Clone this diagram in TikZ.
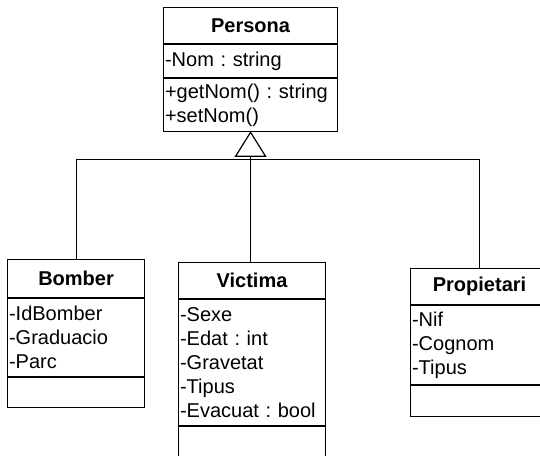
\documentclass[tikz,border=0pt]{standalone}
\usepackage{fontspec}
\setmainfont{Liberation Sans}
\usetikzlibrary{calc}
\frenchspacing

\tikzset{
  comp/.style={draw=black, line width=1.1pt, anchor=north west, inner xsep=1.5pt, inner ysep=0pt,
               font=\fontsize{20}{24}\selectfont},
  ctitle/.style={comp, font=\fontsize{20}{24}\selectfont\bfseries, align=center},
  cattr/.style={comp, align=left},
  link/.style={draw=black, line width=0.9pt},
  gen/.style={draw=black, line width=1.2pt, fill=white, line join=miter},
}

\begin{document}
\begin{tikzpicture}[x=1pt, y=-1pt]
  \useasboundingbox (0,0) rectangle (540,455);
  \clip (0,0) rectangle (540,455);

  % Persona
  \node[ctitle, minimum width=174pt, minimum height=36pt] (persona) at (163,7) {Persona};
  \node[cattr, minimum height=33pt, text width=171pt] (personaattr) at (persona.south west) {-Nom : string};
  \node[cattr, minimum height=53pt, text width=171pt] (personaops) at (personaattr.south west) {+getNom() : string\\+setNom()};

  % Bomber
  \node[ctitle, minimum width=137pt, minimum height=38pt] (bomber) at (7,259) {Bomber};
  \node[cattr, minimum height=78pt, text width=134pt] (bomberattr) at (bomber.south west) {-IdBomber\\-Graduacio\\-Parc};
  \node[cattr, minimum height=30pt, text width=134pt] (bomberops) at (bomberattr.south west) {};

  % Victima
  \node[ctitle, minimum width=147pt, minimum height=36pt] (victima) at (178,262) {Victima};
  \node[cattr, minimum height=126pt, text width=144pt] (victimaattr) at (victima.south west) {-Sexe\\-Edat : int\\-Gravetat\\-Tipus\\-Evacuat : bool};
  \node[cattr, minimum height=40pt, text width=144pt] (victimaops) at (victimaattr.south west) {};

  % Propietari
  \node[ctitle, minimum width=138pt, minimum height=36pt] (propietari) at (410,268) {Propietari};
  \node[cattr, minimum height=79pt, text width=135pt] (propietariattr) at (propietari.south west) {-Nif\\-Cognom\\-Tipus};
  \node[cattr, minimum height=31pt, text width=135pt] (propietariops) at (propietariattr.south west) {};

  % Generalization tree
  \coordinate (apex) at (personaops.south);
  \coordinate (base) at ($(apex)+(0,24)$);
  \coordinate (bus) at ($(apex)+(0,27)$);
  \draw[link] (bomber.north) |- (bus) -| (propietari.north);
  \draw[link] (base) -- (base |- victima.north);
  \draw[gen] (apex) -- ($(base)+(15,0)$) -- ($(base)+(-15,0)$) -- cycle;
\end{tikzpicture}
\end{document}
